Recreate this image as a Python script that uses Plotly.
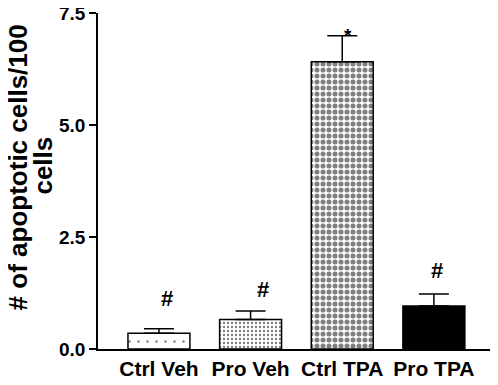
import plotly.graph_objects as go

categories = ["Ctrl Veh", "Pro Veh", "Ctrl TPA", "Pro TPA"]
means = [0.35, 0.66, 6.41, 0.96]
sem = [0.10, 0.19, 0.58, 0.27]
sig_marks = ["#", "#", "*", "#"]
mark_y = [1.12, 1.33, 7.0, 1.75]
mark_dx = [0.09, 0.14, 0.065, 0.03]
y_ticks = [0.0, 2.5, 5.0, 7.5]
y_title_lines = ["# of apoptotic cells/100", "cells"]

FONT = "Liberation Sans, Arial, sans-serif"

fills = [
    dict(color="white", pattern=dict(shape=".", size=9, solidity=0.06,
                                     fgcolor="black", bgcolor="white")),
    dict(color="white", pattern=dict(shape=".", size=4, solidity=0.28,
                                     fgcolor="black", bgcolor="white")),
    dict(color="white", pattern=dict(shape=".", size=6, solidity=0.55,
                                     fgcolor="black", bgcolor="white")),
    dict(color="black"),
]

fig = go.Figure()
for i, cat in enumerate(categories):
    fig.add_trace(go.Bar(
        x=[i], y=[means[i]], width=0.676, name=cat,
        marker=dict(line=dict(color="black", width=1.5), **fills[i]),
        error_y=dict(type="data", symmetric=False, array=[sem[i]],
                     arrayminus=[0], color="black", thickness=1.5, width=15),
        showlegend=False,
    ))

for i, (m, yv, dx) in enumerate(zip(sig_marks, mark_y, mark_dx)):
    fig.add_annotation(x=i + dx, y=yv, text=m, showarrow=False,
                       xref="x", yref="y",
                       font=dict(family=FONT, size=22 if m == "#" else 19,
                                 color="black", weight="bold"))

fig.add_annotation(x=-0.203, y=0.54, xref="paper", yref="paper",
                   text=y_title_lines[0], textangle=-90, showarrow=False,
                   xanchor="center", yanchor="middle",
                   font=dict(family=FONT, size=26, color="black", weight="bold"))
fig.add_annotation(x=-0.140, y=0.545, xref="paper", yref="paper",
                   text=y_title_lines[1], textangle=-90, showarrow=False,
                   xanchor="center", yanchor="middle",
                   font=dict(family=FONT, size=26, color="black", weight="bold"))

fig.update_layout(
    width=498, height=385,
    margin=dict(l=90, r=13, t=5, b=44),
    plot_bgcolor="white", paper_bgcolor="white",
    barmode="overlay",
    font=dict(family=FONT, color="black"),
    xaxis=dict(
        range=[-0.665, 3.645], automargin=False,
        tickmode="array", tickvals=list(range(len(categories))),
        ticktext=categories,
        showline=True, linecolor="black", linewidth=1.5,
        ticks="", showgrid=False, zeroline=False,
        tickfont=dict(family=FONT, size=21, color="black", weight="bold"),
        ticklabelstandoff=0,
    ),
    yaxis=dict(
        range=[0, 7.5], automargin=False,
        tickmode="array", tickvals=y_ticks,
        ticktext=[f"{v:.1f}" for v in y_ticks],
        showline=True, linecolor="black", linewidth=1.5,
        ticks="outside", ticklen=7, tickwidth=1.5, tickcolor="black",
        showgrid=False, zeroline=False, ticklabeloverflow="allow",
        tickfont=dict(family=FONT, size=19, color="black", weight="bold"),
    ),
)

fig.write_html("out.html")
